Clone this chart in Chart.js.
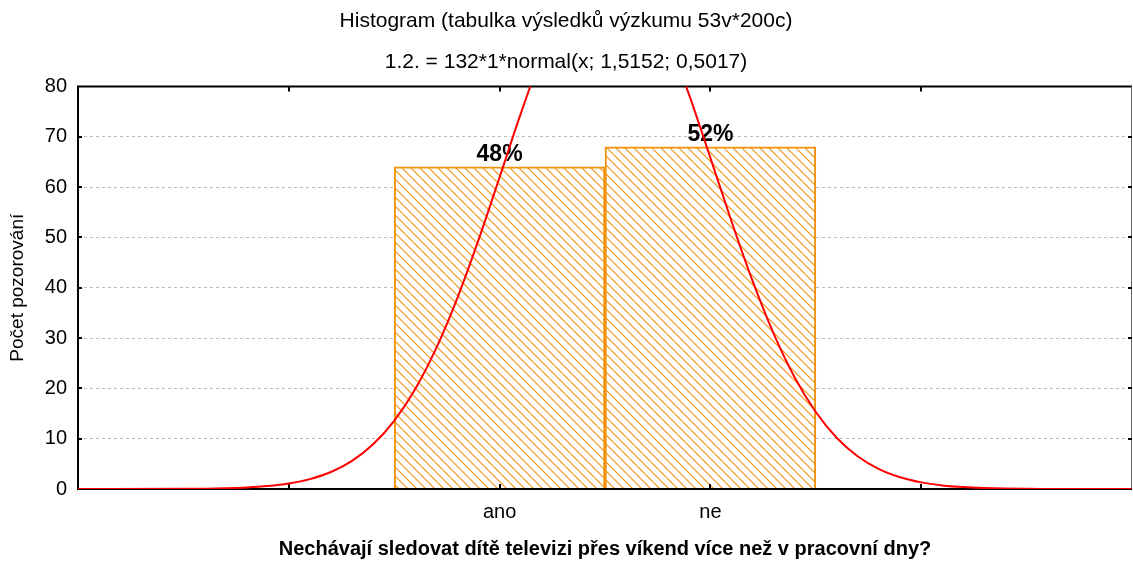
<!DOCTYPE html>
<html>
<head>
<meta charset="utf-8">
<title>Histogram</title>
<script src="https://cdn.jsdelivr.net/npm/chart.js@4.4.1/dist/chart.umd.min.js"></script>
<style>
    html, body { margin: 0; padding: 0; background: #fff; }
</style>
</head>
<body>
<canvas id="histChart" width="1133" height="561"></canvas>
<script>
// ---------------- data ----------------
const categories = ["ano", "ne"];
const categoryX = [1, 2];
const counts = [64, 68];
const percentLabels = ["48%", "52%"];

// fitted normal curve (132*1*normal(x; 1,5152; 0,5017))
const curveX = [-1.0, -0.5, -0.4, -0.3, -0.2, -0.1, 0.0, 0.1, 0.2, 0.3, 0.4, 0.5, 0.6, 0.7, 0.8, 0.9,
    1.0, 1.1, 1.2, 1.3, 1.4, 1.5, 1.6, 1.7, 1.8, 1.9, 2.0, 2.1, 2.2, 2.3, 2.4, 2.5, 2.6, 2.7, 2.8, 2.9,
    3.0, 3.1, 3.2, 3.3, 3.4, 3.5, 3.6, 3.8, 4.0];
const curveY = [0.0, 0.033, 0.072, 0.151, 0.304, 0.589, 1.098, 1.964, 3.379, 5.586, 8.874, 13.548, 19.877, 28.036, 37.99, 49.49,
    61.95, 74.53, 86.16, 95.74, 102.23, 104.91, 103.47, 98.08, 89.34, 78.22, 65.81, 53.21, 41.35, 30.88, 22.16, 15.29, 10.13, 6.458, 3.953, 2.326,
    1.315, 0.715, 0.373, 0.187, 0.090, 0.042, 0.019, 0.003, 0.0];

const xMin = -1, xMax = 4;
const yMin = 0, yMax = 80, yStep = 10;
const frameTicksX = [0, 1, 2, 3];

// ---------------- styles ----------------
const orange = "#F0920C";
const fontFamily = '"Liberation Sans", Arial, sans-serif';
Chart.defaults.font.family = fontFamily;
Chart.defaults.color = "#000";

const ctx = document.getElementById("histChart").getContext("2d");

// diagonal hatch like the original "\\\\" fill
function makeHatch(color) {
    const s = 9;
    const c = document.createElement("canvas");
    c.width = s;
    c.height = s;
    const g = c.getContext("2d");
    g.fillStyle = "#fff";
    g.fillRect(0, 0, s, s);
    g.strokeStyle = color;
    g.lineWidth = 1.1;
    g.beginPath();
    g.moveTo(0, 0); g.lineTo(s, s);
    g.moveTo(-1, s - 1); g.lineTo(1, s + 1);
    g.moveTo(s - 1, -1); g.lineTo(s + 1, 1);
    g.stroke();
    return ctx.createPattern(c, "repeat");
}

// frame + inward ticks + percent labels, drawn after the bars but under the curve
const framePlugin = {
    id: "frame",
    afterDatasetDraw(chart, args) {
        if (args.meta.type !== "bar") return;
        const c = chart.ctx;
        const { left, right, top, bottom } = chart.chartArea;
        const xs = chart.scales.x, ys = chart.scales.y;
        c.save();

        // percent labels
        c.fillStyle = "#000";
        c.font = "bold 23px " + fontFamily;
        c.textAlign = "center";
        c.textBaseline = "alphabetic";
        args.meta.data.forEach((bar, i) => {
            c.fillText(percentLabels[i], bar.x, bar.y - 6);
        });

        // frame
        c.strokeStyle = "#000";
        c.lineWidth = 2;
        c.beginPath();
        c.moveTo(right, top); c.lineTo(left, top);
        c.lineTo(left, bottom); c.lineTo(right, bottom);
        c.stroke();
        c.strokeStyle = "#666";
        c.lineWidth = 1;
        c.beginPath();
        c.moveTo(right - 0.5, top); c.lineTo(right - 0.5, bottom);
        c.stroke();

        // inward ticks
        c.strokeStyle = "#000";
        c.lineWidth = 2;
        c.beginPath();
        frameTicksX.forEach((v) => {
            const px = Math.round(xs.getPixelForValue(v));
            c.moveTo(px, bottom); c.lineTo(px, bottom - 5);
            c.moveTo(px, top); c.lineTo(px, top + 5);
        });
        for (let v = yMin + yStep; v < yMax; v += yStep) {
            const py = Math.round(ys.getPixelForValue(v));
            c.moveTo(left, py); c.lineTo(left + 4, py);
            c.moveTo(right, py); c.lineTo(right - 4, py);
        }
        c.stroke();
        c.restore();
    },
};

new Chart(ctx, {
    type: "bar",
    data: {
        datasets: [
            {
                type: "line",
                label: "normal",
                data: curveX.map((x, i) => ({ x, y: curveY[i] })),
                borderColor: "#FF0000",
                borderWidth: 2,
                pointRadius: 0,
                pointHoverRadius: 0,
                fill: false,
                cubicInterpolationMode: "monotone",
                order: 0,
            },
            {
                type: "bar",
                label: "Počet pozorování",
                data: categoryX.map((x, i) => ({ x, y: counts[i] })),
                backgroundColor: makeHatch(orange),
                borderColor: orange,
                borderWidth: 2,
                barPercentage: 1,
                categoryPercentage: 1,
                order: 1,
            },
        ],
    },
    options: {
        responsive: false,
        animation: false,
        layout: { autoPadding: false, padding: { left: 0, right: 1, top: 0, bottom: 0 } },
        plugins: {
            legend: { display: false },
            tooltip: { enabled: false },
            title: {
                display: true,
                text: "Histogram (tabulka výsledků výzkumu 53v*200c)",
                color: "#000",
                font: { size: 21, weight: "normal" },
                padding: { top: 9, bottom: 15 },
            },
            subtitle: {
                display: true,
                text: "1.2. = 132*1*normal(x; 1,5152; 0,5017)",
                color: "#000",
                font: { size: 21, weight: "normal" },
                padding: { top: 0, bottom: 12 },
            },
        },
        scales: {
            x: {
                type: "linear",
                min: xMin,
                max: xMax,
                offset: false,
                grid: { display: false, offset: false },
                border: { display: false },
                ticks: {
                    stepSize: 1,
                    autoSkip: false,
                    maxRotation: 0,
                    padding: 3,
                    font: { size: 20 },
                    color: "#000",
                    callback: (v) => {
                        const i = categoryX.indexOf(v);
                        return i >= 0 ? categories[i] : "";
                    },
                },
                title: {
                    display: true,
                    text: "Nechávají sledovat dítě televizi přes víkend více než v pracovní dny?",
                    color: "#000",
                    font: { size: 20, weight: "bold" },
                    padding: { top: 0, bottom: 0 },
                },
                afterFit: (scale) => {
                    scale.height = 72;
                    scale.paddingLeft = 0;
                    scale.paddingRight = 0;
                },
            },
            y: {
                min: yMin,
                max: yMax,
                grid: { color: "#bdbdbd", lineWidth: 1, drawTicks: false },
                border: { display: false, dash: [3, 3] },
                ticks: {
                    stepSize: yStep,
                    padding: 11,
                    font: { size: 20 },
                    color: "#000",
                },
                title: {
                    display: true,
                    text: "Počet pozorování",
                    color: "#000",
                    font: { size: 19, weight: "normal" },
                    padding: { top: 6, bottom: 0 },
                },
                afterFit: (scale) => { scale.width = 78; },
            },
        },
    },
    plugins: [framePlugin],
});
</script>
</body>
</html>
